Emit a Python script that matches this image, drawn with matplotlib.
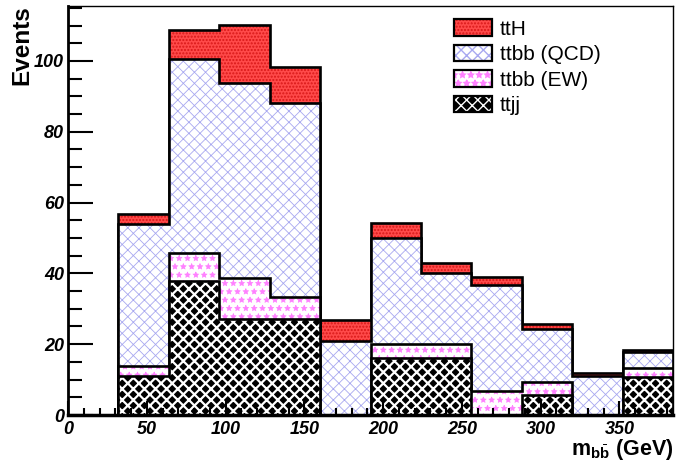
import numpy as np
import matplotlib
matplotlib.use('Agg')
import matplotlib.pyplot as plt
from matplotlib.ticker import MultipleLocator
from matplotlib.legend_handler import HandlerTuple

# m_bb bins (GeV), 32 GeV wide
edges = [0, 32, 64, 96, 128, 160, 192, 224, 256, 288, 320, 352, 384]
# first bin (0-32) is empty in every sample
ttjj = [0, 11.1, 37.9, 27.2, 27.2, 0.0, 16.2, 16.2, 0.0, 5.6, 0.0, 10.8]
ttbb_ew = [0, 2.7, 7.8, 11.4, 6.0, 0.0, 3.8, 3.8, 6.8, 3.8, 0.0, 2.4]
ttbb_qcd = [0, 40.1, 54.9, 55.1, 55.0, 20.8, 30.1, 20.2, 29.9, 14.9, 11.0, 4.7]
tth = [0, 2.8, 8.2, 16.5, 10.2, 6.0, 4.2, 2.7, 2.3, 1.3, 0.8, 0.5]

labels = ['ttH', 'ttbb (QCD)', 'ttbb (EW)', 'ttjj']

plt.rcParams['font.family'] = ['Liberation Sans', 'DejaVu Sans']
plt.rcParams['mathtext.fontset'] = 'custom'
plt.rcParams['mathtext.bf'] = 'Liberation Sans:bold'
plt.rcParams['mathtext.rm'] = 'Liberation Sans'

fig = plt.figure(figsize=(6.76, 4.63), dpi=100)
ax = fig.add_axes([68 / 676, 1 - 415 / 463, 605 / 676, 409.3 / 463])

# cumulative stacks, bottom sample first
s1 = np.array(ttjj)
s2 = s1 + np.array(ttbb_ew)
s3 = s2 + np.array(ttbb_qcd)
s4 = s3 + np.array(tth)

# (face, hatch, hatch colour, hatch width)
styles = [
    ('#ff4a4a', '.....', '#d81818', 1.0),   # ttH
    ('white', 'xxx', '#a8a8f0', 0.6),       # ttbb QCD
    ('white', '**', '#ff80ff', 0.5),        # ttbb EW
    ('black', 'xxx', 'white', 1.6),         # ttjj
]


def hatched(patch, hlw):
    if hasattr(patch, 'set_hatch_linewidth'):
        patch.set_hatch_linewidth(hlw)
    return patch


for vals, (fc, htch, hc, hlw) in zip([s4, s3, s2, s1], styles):
    with plt.rc_context({'hatch.linewidth': hlw}):
        p = ax.stairs(vals, edges, baseline=0, fill=True, facecolor=fc,
                      edgecolor=hc, hatch=htch, linewidth=0)
        hatched(p, hlw)
    ax.stairs(vals, edges, baseline=0, fill=False, color='black', linewidth=1.9)

# legend: hatched fill + black outline overlaid
leg_handles = []
for (fc, htch, hc, hlw) in styles:
    with plt.rc_context({'hatch.linewidth': hlw}):
        f = hatched(plt.Rectangle((0, 0), 1, 1, facecolor=fc, edgecolor=hc,
                                  hatch=htch, linewidth=0), hlw)
    o = plt.Rectangle((0, 0), 1, 1, facecolor='none', edgecolor='black', linewidth=1.6)
    leg_handles.append((f, o))

ax.legend(handles=leg_handles, labels=labels, loc='upper left',
          handler_map={tuple: HandlerTuple(ndivide=1, pad=0)},
          bbox_to_anchor=(454 / 676, 1 - 19 / 463), bbox_transform=fig.transFigure,
          frameon=False, fontsize=15, handlelength=1.83, handleheight=0.85,
          handletextpad=0.38, labelspacing=0.29, borderpad=0, borderaxespad=0)

ax.set_xlim(0, 384)
ax.set_ylim(0, 115.6)

ax.xaxis.set_major_locator(MultipleLocator(50))
ax.xaxis.set_minor_locator(MultipleLocator(10))
ax.yaxis.set_major_locator(MultipleLocator(20))
ax.yaxis.set_minor_locator(MultipleLocator(5))

ax.tick_params(axis='both', which='both', direction='in', top=False, right=False, width=1.5)
ax.tick_params(axis='x', which='major', length=10, pad=4)
ax.tick_params(axis='x', which='minor', length=5)
ax.tick_params(axis='y', which='major', length=18, pad=3)
ax.tick_params(axis='y', which='minor', length=10)
for lab in ax.get_xticklabels() + ax.get_yticklabels():
    lab.set_fontsize(13)
    lab.set_fontweight('bold')
    lab.set_fontstyle('italic')

ax.spines['left'].set_linewidth(2)
ax.spines['bottom'].set_linewidth(2.5)
ax.spines['top'].set_linewidth(1)
ax.spines['right'].set_linewidth(1)
for sp in ax.spines.values():
    sp.set_zorder(5)

ax.set_ylabel('Events', fontsize=17.5, fontweight='bold', loc='top')
ax.yaxis.set_label_coords(-0.058, 1.0)
ax.set_xlabel(r'$\mathbf{m}_{\mathbf{b}\bar{\mathbf{b}}}$ (GeV)', fontsize=15.5,
              fontweight='bold', loc='right', va='top')
ax.xaxis.set_label_coords(1.0, -0.054)

plt.savefig('out.png', dpi=100)
